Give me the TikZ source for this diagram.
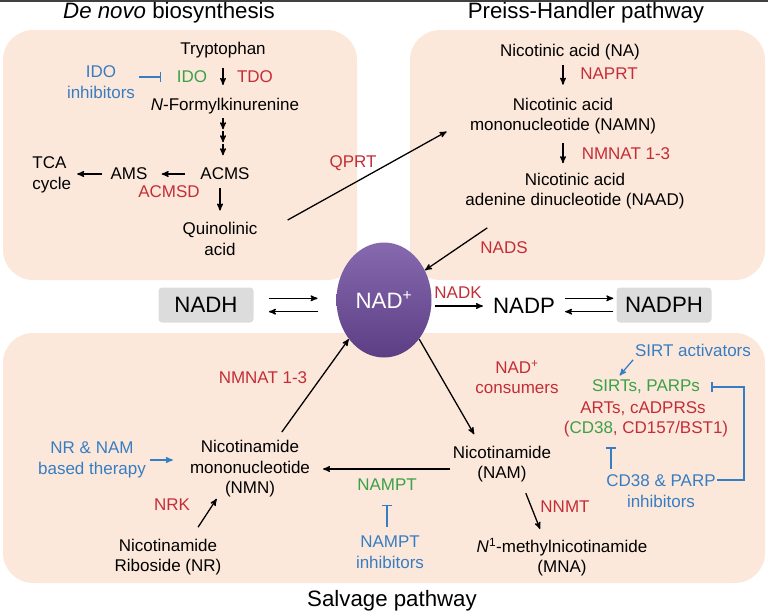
\documentclass[tikz,border=0pt]{standalone}
\usepackage{fontspec}
\setmainfont{Liberation Sans}
\usepackage{xcolor}
\usepackage{tikz}
\usetikzlibrary{shapes,arrows,arrows.meta}

\definecolor{enzred}{RGB}{196,45,55}
\definecolor{actgreen}{RGB}{60,160,70}
\definecolor{drugblue}{RGB}{55,125,195}
\definecolor{pathbg}{RGB}{252,232,218}
\definecolor{cofgray}{RGB}{220,220,220}
\definecolor{nadtop}{RGB}{135,105,175}
\definecolor{nadbot}{RGB}{92,62,132}

\begin{document}
\begin{tikzpicture}[x=0.3mm,y=-0.3mm]
\useasboundingbox (0,0) rectangle (768,616);

\tikzset{>=stealth'}
\def\px{0.3mm}
\tikzstyle{txt} = [inner sep=1pt, align=center, font=\fontsize{14.5}{17.5}\selectfont];
\tikzstyle{enz} = [txt, text=enzred];
\tikzstyle{act} = [txt, text=actgreen];
\tikzstyle{drug} = [txt, text=drugblue];
\tikzstyle{big} = [inner sep=1pt, font=\fontsize{19}{22}\selectfont];
\tikzstyle{cofactor} = [big, fill=cofgray, rounded corners=3pt,
	minimum width=95*\px, minimum height=35*\px];
\tikzstyle{nadball} = [big, ellipse, minimum width=95*\px, minimum height=115*\px,
	top color=nadtop, bottom color=nadbot, text=white];
\tikzstyle{rxn} = [->, line width=1.1pt];
\tikzstyle{inh} = [-{Bar[width=9pt]}, drugblue, line width=1.1pt];

% top rule and the three pathway panels
\draw[line width=2*\px, black!75] (0,1) -- (768,1);
\fill[pathbg, rounded corners=9mm] (3,30) rectangle (357,280);
\fill[pathbg, rounded corners=9mm] (410,30) rectangle (765,280);
\fill[pathbg, rounded corners=9mm] (3,333) rectangle (765,583);

\node[big] (tdenovo) at (169,13) {\textit{De novo} biosynthesis};
\node[big] (tpreiss) at (586,13) {Preiss-Handler pathway};
\node[big] (tsalv) at (392,601) {Salvage pathway};

% de novo
\node[txt] (trp) at (223,50) {Tryptophan};
\node[act] (ido) at (192,77) {IDO};
\node[enz] (tdo) at (255,77) {TDO};
\node[drug] (idoinh) at (101,82) {IDO\\inhibitors};
\node[txt] (nfk) at (225,106) {\textit{N}-Formylkinurenine};
\node[txt] (acms) at (225,174) {ACMS};
\node[txt] (ams) at (129,174) {AMS};
\node[txt, align=left, anchor=west] (tca) at (31,175) {TCA\\cycle};
\node[enz] (acmsd) at (169,192) {ACMSD};
\node[txt] (quin) at (220,239) {Quinolinic\\acid};
\node[enz] (qprt) at (353,163) {QPRT};

\draw[rxn, shorten <=7pt, shorten >=10pt] (trp) -- (trp |- nfk.north);
\draw[inh, shorten <=2.5pt, shorten >=12pt] (idoinh.east |- ido.west) -- (ido.west);
\foreach \k in {0,1,2}
	\draw[rxn] ([yshift=-(3+13*\k)*\px]nfk.south -| trp) -- ++(0,11);
\draw[rxn, shorten <=12pt, shorten >=11pt] (acms) -- (ams);
\draw[rxn, shorten <=6pt, shorten >=4pt] (ams) -- (ams -| tca.east);
\draw[rxn, shorten <=6pt, shorten >=9pt] (acms.south -| quin) -- (quin);

% Preiss-Handler
\node[txt] (na) at (570,52) {Nicotinic acid (NA)};
\node[enz] (naprt) at (609,74) {NAPRT};
\node[txt] (namn) at (563,116) {Nicotinic acid\\mononucleotide (NAMN)};
\node[enz] (nmnat1) at (626,154) {NMNAT 1-3};
\node[txt] (naad) at (575,191) {Nicotinic acid\\adenine dinucleotide (NAAD)};
\node[enz] (nads) at (504,248) {NADS};

\draw[rxn] ([shift={(29,-19)}]quin.east) -- ([shift={(-22,-4)}]namn.south west);
\draw[rxn, shorten <=3.5pt, shorten >=10pt] (na.south -| namn) -- (namn.north);
\draw[rxn, shorten <=6.5pt, shorten >=7pt] (namn.south) -- (naad.north -| namn.south);

% NAD+ and its redox partners
\node[cofactor] (nadh) at (206,305) {NADH};
\node[nadball] (nad) at (384,300) {NAD\textsuperscript{+}};
\node[big] (nadp) at (524,306) {NADP};
\node[cofactor] (nadph) at (664,305) {NADPH};
\node[enz] (nadk) at (458,293) {NADK};

\draw[rxn, shorten <=8pt] ([shift={(-80,12)}]naad.south) -- (nad.36);
\draw[rxn, shorten <=13pt, shorten >=16pt] ([yshift=2mm]nadh.east) -- ([yshift=2mm]nadh.east -| nad.west);
\draw[rxn, shorten <=16pt, shorten >=13pt] ([yshift=-2mm]nadh.east -| nad.west) -- ([yshift=-2mm]nadh.east);
\draw[rxn, shorten <=2.5pt, shorten >=7.5pt] (nad.east |- nadp.west) -- (nadp.west);
\draw[rxn, shorten <=7.5pt, shorten >=2.5pt] ([yshift=2mm]nadph.west -| nadp.east) -- ([yshift=2mm]nadph.west);
\draw[rxn, shorten <=2.5pt, shorten >=7.5pt] ([yshift=-2mm]nadph.west) -- ([yshift=-2mm]nadph.west -| nadp.east);

% salvage
\node[enz] (nmnat2) at (263,378) {NMNAT 1-3};
\node[drug] (nrnam) at (92,460) {NR \& NAM\\based therapy};
\node[txt] (nmn) at (250,469) {Nicotinamide\\mononucleotide\\(NMN)};
\node[enz] (nrk) at (172,505) {NRK};
\node[txt] (nr) at (168,557) {Nicotinamide\\Riboside (NR)};
\node[txt] (nam) at (502,464) {Nicotinamide\\(NAM)};
\node[act] (nampt) at (387,485) {NAMPT};
\node[drug] (namptinh) at (390,552) {NAMPT\\inhibitors};
\node[enz] (consum) at (517,377) {NAD\textsuperscript{+}\\consumers};
\node[enz] (nnmt) at (565,507) {NNMT};
\node[txt] (mna) at (562,557) {\textit{N}\textsuperscript{1}-methylnicotinamide\\(MNA)};
\node[drug] (sirtact) at (693,350) {SIRT activators};
\node[act] (sirts) at (646,387) {SIRTs, PARPs};
\node[enz] (arts) at (643,409) {ARTs, cADPRSs};
\node[enz] (cd38) at (646,429) {(\textcolor{actgreen}{CD38}, CD157/BST1)};
\node[drug] (cdinh) at (661,491) {CD38 \& PARP\\inhibitors};

\draw[rxn, shorten <=7.5pt] ([xshift=8mm]nmn.north) -- (nad.228);
\draw[rxn, shorten >=10pt] (nad.-48) -- ([xshift=-22*\px]nam.north);
\draw[rxn, shorten <=1pt, shorten >=10pt] (nmn.east -| nam.west) -- (nmn.east);
\draw[inh, shorten <=6.5pt, shorten >=11pt] (namptinh.north -| nampt) -- (nampt);
\draw[rxn, shorten <=10.5pt] ([xshift=7mm]nr.north) -- ([xshift=-10mm]nmn.south);
\draw[->, drugblue, line width=1.1pt, shorten <=2.5pt, shorten >=13.5pt] (nrnam.east) -- (nrnam.east -| nmn.west);
\draw[rxn, shorten <=8.8pt, shorten >=6.8pt] ([xshift=20*\px]nam.south) -- ([xshift=-19*\px]mna.north);
\draw[->, drugblue, line width=1.1pt, shorten <=2.5pt, shorten >=3.5pt] ([xshift=-58*\px]sirtact.south) -- ([xshift=-29*\px]sirts.north);
\draw[inh, shorten >=8.5pt] ([yshift=11*\px]cdinh.east) -- ++(27,0) |- (sirts.east);
\draw[inh, shorten <=4pt, shorten >=7.7pt] ([xshift=-35*\px]cd38.south |- cdinh.north) -- ([xshift=-35*\px]cd38.south);

\end{tikzpicture}
\end{document}
